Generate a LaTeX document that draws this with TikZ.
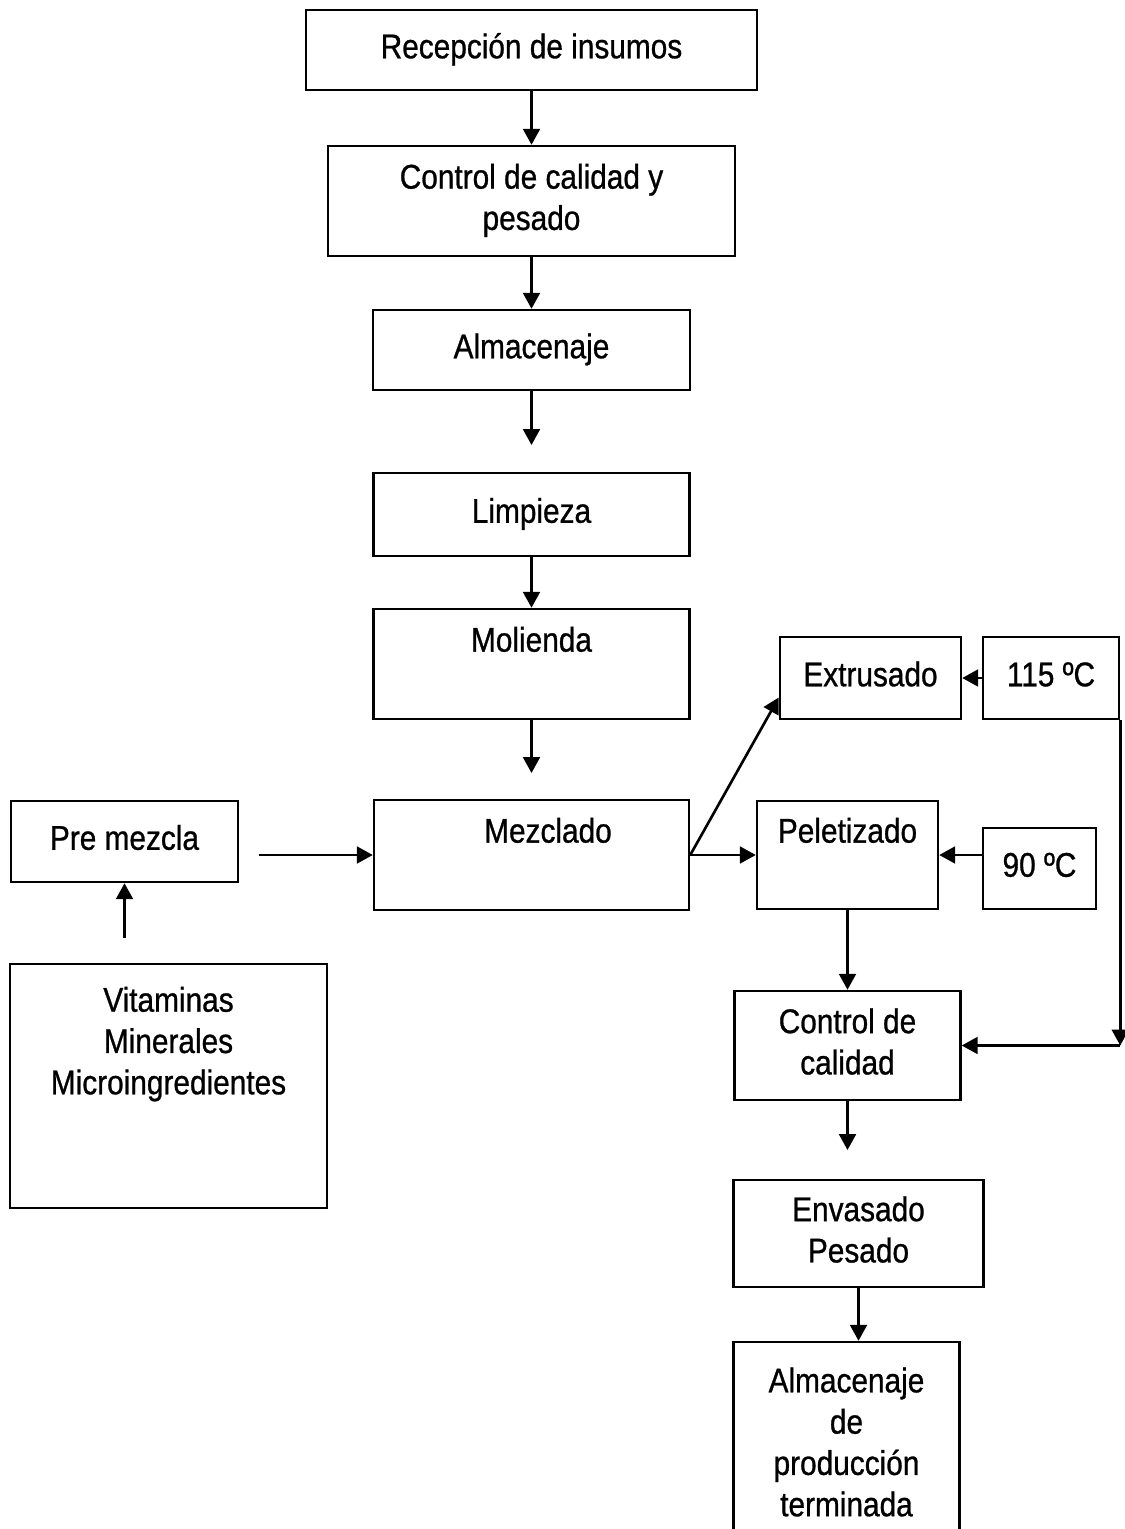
\documentclass[tikz,border=0pt]{standalone}
\usepackage{fontspec}
\setmainfont{Liberation Sans}[FakeStretch=0.87,FakeBold=0.8]
\usepackage{tikz}
\usetikzlibrary{shapes,arrows.meta,positioning}
\tikzstyle{line} = [draw, line width=1.5pt, -{Triangle[length=9pt,width=9.5pt]}]
\tikzstyle{box} = [rectangle, draw, line width=1.4pt, align=center, inner sep=0pt, font=\fontsize{19.5}{23.5}\selectfont]

\begin{document}
\begin{tikzpicture}
		\useasboundingbox (0,0) rectangle (22.5,-30.58);
		\clip (0,0) rectangle (22.5,-30.58);
		
		% main column
		\node [box, minimum width=9.02cm, minimum height=1.6cm] (recep) at (10.63,-1.0) {\strut Recepción de insumos};
		\node [box, below of=recep, node distance=3.02cm, minimum width=8.14cm, minimum height=2.2cm] (ctrl1) {\strut Control de calidad y\\\strut pesado};
		\node [box, below of=ctrl1, node distance=2.98cm, minimum width=6.34cm, minimum height=1.6cm] (alm1) {\strut Almacenaje};
		\node [box, below of=alm1, node distance=3.29cm, minimum width=6.32cm, minimum height=1.66cm] (limp) {\strut Limpieza};
		\node [box, below of=limp, node distance=2.99cm, minimum width=6.32cm, minimum height=2.2cm] (mol) {\strut Molienda\\\strut};
		\node [box, below of=mol, node distance=3.82cm, minimum width=6.30cm, minimum height=2.2cm] (mez) {\strut\hspace*{0.66cm}Mezclado\\\strut};
		
		\path [line] (recep.south) to (ctrl1.north);
		\path [line] (ctrl1.south) to (alm1.north);
		\coordinate [below of=alm1, node distance=1.9cm] (c1);
		\path [line] (alm1.south) to (c1);
		\path [line] (limp.south) to (mol.north);
		\coordinate [below of=mol, node distance=2.18cm] (c2);
		\path [line] (mol.south) to (c2);
		
		% premezcla
		\node [box, left of=mez, node distance=8.14cm, yshift=0.27cm, minimum width=4.54cm, minimum height=1.62cm] (pre) {\strut Pre mezcla};
		\node [box, below of=pre, node distance=4.89cm, xshift=0.88cm, minimum width=6.34cm, minimum height=4.88cm] (vit) {\strut Vitaminas\\\strut Minerales\\\strut Microingredientes\\\strut\\\strut};
		
		\coordinate [left of=mez, node distance=5.45cm] (c3);
		\path [line] (c3) to (mez.west);
		\coordinate [below of=pre, node distance=1.93cm] (c4);
		\path [line] (c4) to (pre.south);
		
		% extrusado / peletizado
		\node [box, right of=mez, node distance=6.32cm, minimum width=3.62cm, minimum height=2.16cm] (pel) {\strut Peletizado\\\strut};
		\node [box, above of=pel, node distance=3.54cm, xshift=0.46cm, minimum width=3.62cm, minimum height=1.64cm] (ext) {\strut Extrusado};
		\node [box, right of=ext, node distance=3.61cm, minimum width=2.72cm, minimum height=1.64cm] (t115) {\strut 115 ºC};
		\node [box, right of=pel, node distance=3.84cm, yshift=-0.27cm, minimum width=2.26cm, minimum height=1.62cm] (t90) {\strut 90 ºC};
		
		\path [line] (mez.east) to (pel.west);
		\path [line] (mez.east) to (ext.192);
		\path [line] (t115.west) to (ext.east);
		\path [line] (t90.west |- pel.east) to (pel.east);
		
		% final steps
		\node [box, below of=pel, node distance=3.81cm, minimum width=4.52cm, minimum height=2.18cm] (ctrl2) {\strut Control de\\\strut calidad};
		\node [box, below of=ctrl2, node distance=3.76cm, xshift=0.22cm, minimum width=5.0cm, minimum height=2.14cm] (env) {\strut Envasado\\\strut Pesado};
		\node [box, below of=env, node distance=4.25cm, xshift=-0.24cm, minimum width=4.52cm, minimum height=4.16cm] (alm2) {\strut Almacenaje\\\strut de\\\strut producción\\\strut terminada};
		
		\path [line] (pel.south) to (ctrl2.north);
		\path [line] (t115.south east) to (t115.south east |- ctrl2.east);
		\path [line] (t115.south east |- ctrl2.east) to (ctrl2.east);
		\coordinate [below of=ctrl2, node distance=2.09cm] (c5);
		\path [line] (ctrl2.south) to (c5);
		\path [line] (env.south) to (env.south |- alm2.north);
\end{tikzpicture}
\end{document}
